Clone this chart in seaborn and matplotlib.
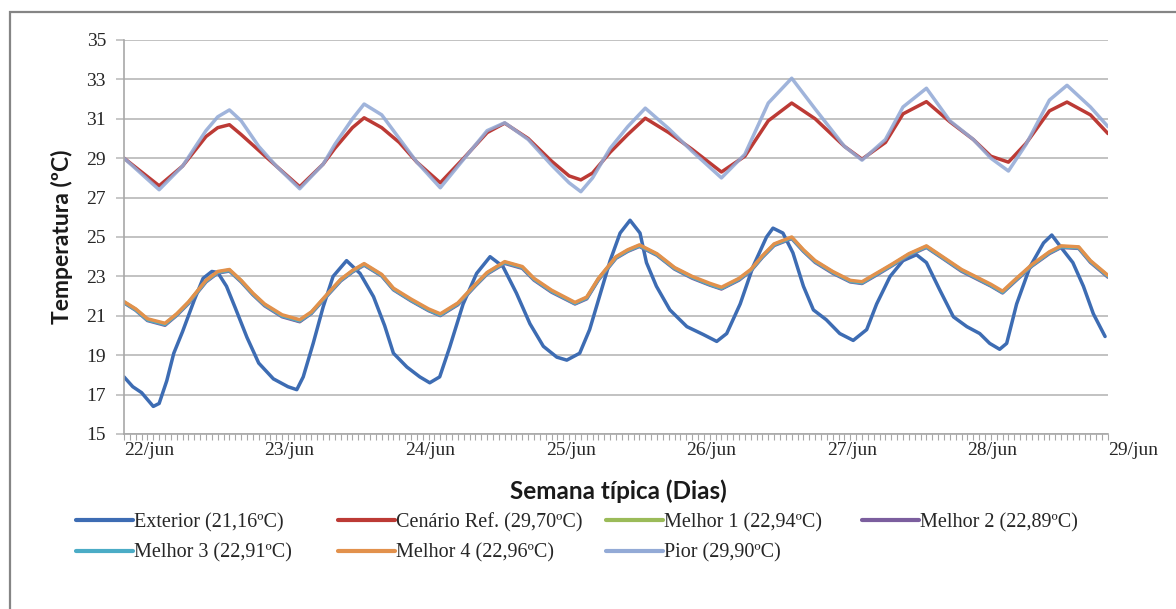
import matplotlib
matplotlib.use("Agg")
import matplotlib.pyplot as plt
import numpy as np
import pandas as pd
import seaborn as sns
from matplotlib.lines import Line2D
from matplotlib.patches import Rectangle
from matplotlib.ticker import MultipleLocator, FixedLocator

# ---- series (hour of the typical week, temperature in ºC) ----
ext_hours = [0, 1.5, 3, 5, 6, 7.3, 8.5, 10, 12, 13.5, 15, 16, 17.5, 19, 21, 23, 25.5, 28, 29.5,
             30.6, 32.3, 34, 35.7, 38, 40.3, 42.6, 44.5, 46, 48.3, 50.5, 52.2, 53.9, 55.6, 57.9,
             60.2, 62.5, 64.7, 67, 69.3, 71.6, 73.9, 75.6, 77.8, 79.5, 81.3, 83, 84.7, 86.4, 88.1,
             89.2, 90.9, 93.2, 96.1, 98.9, 101.2, 102.9, 105.2, 107.4, 109.7, 110.8, 112.5, 114.2,
             116, 117.7, 119.9, 122.2, 124.5, 126.8, 128.5, 130.8, 133, 135.3, 137, 139.3, 141.6,
             143.9, 146.1, 147.8, 149.5, 150.7, 152.4, 154.7, 157, 158.4, 160.3, 162, 163.8,
             165.5, 167.5]
exterior = [17.9, 17.4, 17.1, 16.4, 16.55, 17.7, 19.1, 20.2, 21.8, 22.9, 23.25, 23.2, 22.5, 21.4,
            19.9, 18.6, 17.8, 17.4, 17.25, 17.9, 19.6, 21.45, 23.0, 23.8, 23.15, 21.97, 20.5,
            19.1, 18.4, 17.9, 17.6, 17.9, 19.4, 21.6, 23.15, 24.0, 23.5, 22.15, 20.6, 19.45,
            18.9, 18.75, 19.1, 20.3, 22.1, 23.8, 25.2, 25.85, 25.2, 23.7, 22.5, 21.3, 20.45,
            20.05, 19.7, 20.1, 21.6, 23.5, 25.0, 25.45, 25.2, 24.2, 22.5, 21.3, 20.8, 20.1,
            19.75, 20.3, 21.6, 23.0, 23.8, 24.1, 23.7, 22.3, 20.95, 20.45, 20.1, 19.6, 19.3,
            19.6, 21.6, 23.5, 24.7, 25.1, 24.35, 23.7, 22.5, 21.1, 19.95]

env_hours = [0, 3, 6, 10, 14, 16, 18, 20, 23, 26, 30, 34, 36, 39, 41, 44, 47, 50, 54, 58,
             62, 65, 69, 73, 76, 78, 80, 83, 86, 89, 93, 97, 102, 106, 110, 114, 118, 123, 126,
             130, 133, 137, 141, 145, 148, 151, 154, 158, 161, 165, 168]
cenario_ref = [29.0, 28.3, 27.6, 28.6, 30.1, 30.55, 30.7, 30.2, 29.4, 28.6, 27.55, 28.7, 29.5,
               30.55, 31.05, 30.55, 29.8, 28.8, 27.75, 29.0, 30.3, 30.78, 30.0, 28.85, 28.1,
               27.9, 28.25, 29.3, 30.2, 31.03, 30.3, 29.45, 28.3, 29.1, 30.9, 31.8, 31.0, 29.6,
               28.95, 29.8, 31.25, 31.87, 30.85, 29.95, 29.1, 28.8, 29.75, 31.4, 31.85, 31.2,
               30.25]
pior = [29.0, 28.2, 27.4, 28.6, 30.4, 31.1, 31.45, 30.9, 29.6, 28.6, 27.45, 28.7, 29.7, 31.0,
        31.75, 31.2, 30.0, 28.8, 27.5, 28.95, 30.4, 30.8, 29.95, 28.65, 27.75, 27.3, 28.0,
        29.5, 30.6, 31.54, 30.5, 29.35, 28.0, 29.2, 31.8, 33.06, 31.5, 29.6, 28.9, 29.95,
        31.6, 32.55, 30.9, 29.95, 29.0, 28.35, 29.7, 31.95, 32.7, 31.6, 30.6]

best_hours = [0, 2, 4, 7, 9, 11, 14, 16, 18, 20, 22, 24, 27, 30, 32, 35, 37, 39, 41, 44,
              46, 49, 52, 54, 57, 60, 62, 65, 68, 70, 73, 77, 79, 81, 84, 86, 88, 91, 94, 97,
              100, 102, 105, 107, 109, 111, 114, 116, 118, 121, 124, 126, 129, 131, 134, 137,
              140, 143, 146, 148, 150, 152, 155, 158, 160, 163, 165, 168]
melhor1 = [21.7, 21.33, 20.82, 20.58, 21.08, 21.68, 22.78, 23.22, 23.32, 22.78, 22.12, 21.57,
           21.0, 20.72, 21.18, 22.18, 22.83, 23.28, 23.62, 23.07, 22.37, 21.8, 21.3, 21.05,
           21.62, 22.58, 23.18, 23.72, 23.47, 22.86, 22.25, 21.63, 21.92, 22.88, 23.97, 24.32,
           24.57, 24.12, 23.42, 22.96, 22.6, 22.4, 22.87, 23.32, 24.02, 24.62, 24.97, 24.32,
           23.77, 23.22, 22.76, 22.68, 23.22, 23.57, 24.12, 24.52, 23.92, 23.31, 22.86, 22.55,
           22.2, 22.77, 23.57, 24.22, 24.52, 24.47, 23.77, 23.02]
melhor2 = [21.66, 21.28, 20.76, 20.52, 21.02, 21.62, 22.72, 23.17, 23.27, 22.72, 22.07, 21.51,
           20.95, 20.7, 21.12, 22.12, 22.77, 23.22, 23.57, 23.02, 22.32, 21.76, 21.26, 21.01,
           21.56, 22.52, 23.12, 23.66, 23.41, 22.81, 22.2, 21.6, 21.86, 22.82, 23.92, 24.27,
           24.52, 24.07, 23.37, 22.91, 22.56, 22.36, 22.81, 23.27, 23.97, 24.57, 24.92, 24.27,
           23.71, 23.16, 22.72, 22.64, 23.16, 23.52, 24.06, 24.47, 23.87, 23.26, 22.81, 22.51,
           22.16, 22.71, 23.52, 24.16, 24.47, 24.42, 23.71, 22.96]
melhor3 = [21.68, 21.3, 20.79, 20.56, 21.05, 21.65, 22.75, 23.2, 23.3, 22.75, 22.1, 21.55,
           20.99, 20.74, 21.15, 22.15, 22.8, 23.25, 23.6, 23.05, 22.35, 21.79, 21.29, 21.04,
           21.6, 22.55, 23.15, 23.7, 23.45, 22.85, 22.24, 21.63, 21.9, 22.85, 23.95, 24.3,
           24.55, 24.1, 23.4, 22.95, 22.59, 22.39, 22.85, 23.3, 24.0, 24.6, 24.95, 24.3, 23.75,
           23.2, 22.75, 22.67, 23.2, 23.55, 24.1, 24.5, 23.9, 23.3, 22.85, 22.54, 22.19, 22.75,
           23.55, 24.2, 24.5, 24.45, 23.75, 23.0]
melhor4 = [21.72, 21.35, 20.85, 20.62, 21.1, 21.7, 22.8, 23.25, 23.35, 22.8, 22.15, 21.6,
           21.05, 20.8, 21.2, 22.2, 22.85, 23.3, 23.65, 23.1, 22.4, 21.85, 21.35, 21.1, 21.65,
           22.6, 23.2, 23.75, 23.5, 22.9, 22.3, 21.68, 21.95, 22.9, 24.0, 24.35, 24.6, 24.15,
           23.45, 23.0, 22.65, 22.45, 22.9, 23.35, 24.05, 24.65, 25.0, 24.35, 23.8, 23.25,
           22.8, 22.73, 23.25, 23.6, 24.15, 24.55, 23.95, 23.35, 22.9, 22.6, 22.25, 22.8, 23.6,
           24.25, 24.55, 24.5, 23.8, 23.05]

series_names = ["Exterior", "Cenário Ref.", "Melhor 1", "Melhor 2", "Melhor 3", "Melhor 4", "Pior"]
series_means = ["21,16", "29,70", "22,94", "22,89", "22,91", "22,96", "29,90"]
day_labels = ["22/jun", "23/jun", "24/jun", "25/jun", "26/jun", "27/jun", "28/jun", "29/jun"]
day_ticks = [0, 24, 48, 72, 96, 120, 144, 168]
y_ticks = [15, 17, 19, 21, 23, 25, 27, 29, 31, 33, 35]

colors = {
    "Exterior": "#3D6CB3",
    "Cenário Ref.": "#BC3A35",
    "Melhor 1": "#9BBB59",
    "Melhor 2": "#7B5E9E",
    "Melhor 3": "#4BACC6",
    "Melhor 4": "#E2914C",
    "Pior": "#93AAD6",
}

frames = []
for name, hrs, vals in [
    ("Exterior", ext_hours, exterior),
    ("Cenário Ref.", env_hours, cenario_ref),
    ("Melhor 1", best_hours, melhor1),
    ("Melhor 2", best_hours, melhor2),
    ("Melhor 3", best_hours, melhor3),
    ("Melhor 4", best_hours, melhor4),
    ("Pior", env_hours, pior),
]:
    frames.append(pd.DataFrame({"hora": hrs, "temp": vals, "serie": name}))
df = pd.concat(frames, ignore_index=True)

sns.set_theme(style="white")
plt.rcParams["font.family"] = ["Liberation Serif", "DejaVu Serif"]

W, H = 1176, 609
fig = plt.figure(figsize=(W / 100, H / 100), dpi=100)
fig.patch.set_facecolor("white")

# outer chart frame
fig.patches.append(Rectangle((10 / W, -0.02), 1.1, (H - 12) / H + 0.02, transform=fig.transFigure,
                             fill=False, edgecolor="#858585", linewidth=1.6, zorder=0))

ax = fig.add_axes([124 / W, 1 - 434 / H, 984 / W, 394 / H])
grid_c = "#BDBDBD"

for name in series_names:
    sub = df[df["serie"] == name]
    sns.lineplot(data=sub, x="hora", y="temp", ax=ax, color=colors[name], linewidth=2.5,
                 sort=False, estimator=None, legend=False,
                 alpha=0.88 if name == "Pior" else 1.0)

ax.set_xlim(0, 168)
ax.set_ylim(15, 35)
ax.yaxis.set_major_locator(FixedLocator(y_ticks))
ax.set_yticklabels([str(v) for v in y_ticks])
ax.yaxis.grid(True, color=grid_c, linewidth=1.3)
ax.xaxis.grid(False)
ax.set_axisbelow(True)

ax.xaxis.set_major_locator(FixedLocator(day_ticks))
ax.xaxis.set_minor_locator(MultipleLocator(1))
ax.set_xticklabels(day_labels)
for lbl in ax.get_xticklabels():
    lbl.set_horizontalalignment("left")

ax.tick_params(axis="y", which="major", direction="out", length=6, width=1.2, color=grid_c,
               labelsize=14, pad=7, left=True)
ax.tick_params(axis="x", which="major", direction="out", length=4, width=0.8, color="#A8A8A8",
               labelsize=14, pad=1.5, bottom=True)
ax.tick_params(axis="x", which="minor", direction="out", length=4, width=0.8, color="#A8A8A8",
               bottom=True)

for side in ["top", "right"]:
    ax.spines[side].set_visible(False)
for side in ["left", "bottom"]:
    ax.spines[side].set_color("#A8A8A8")
    ax.spines[side].set_linewidth(1.2)

ax.set_xlabel("")
ax.set_ylabel("")

fig.text(62 / W, 1 - 237 / H, "Temperatura (ºC)", rotation=90, ha="center", va="center",
         fontsize=16.5, fontweight="bold", family=["Lato", "DejaVu Sans"], color="#1a1a1a")
fig.text(618 / W, 1 - 491 / H, "Semana típica (Dias)", ha="center", va="center",
         fontsize=17.5, fontweight="bold", family=["Lato", "DejaVu Sans"], color="#1a1a1a")

labels = {n: f"{n} ({m}ºC)" for n, m in zip(series_names, series_means)}
# legend laid out on a regular grid: one block per column
columns = [["Exterior", "Melhor 3"], ["Cenário Ref.", "Melhor 4"], ["Melhor 1", "Pior"],
           ["Melhor 2"]]
col_x = [76, 338, 606, 862]
for names, x0 in zip(columns, col_x):
    hs = [Line2D([], [], color=colors[n], linewidth=3.0) for n in names]
    fig.legend(hs, [labels[n] for n in names], loc="upper left",
               bbox_to_anchor=(x0 / W, 1 - 513 / H), ncol=1, frameon=False, fontsize=14.5,
               handlelength=2.85, handletextpad=0.05, labelspacing=0.55,
               borderpad=0, borderaxespad=0)

fig.savefig("out.png", dpi=100, facecolor="white")
